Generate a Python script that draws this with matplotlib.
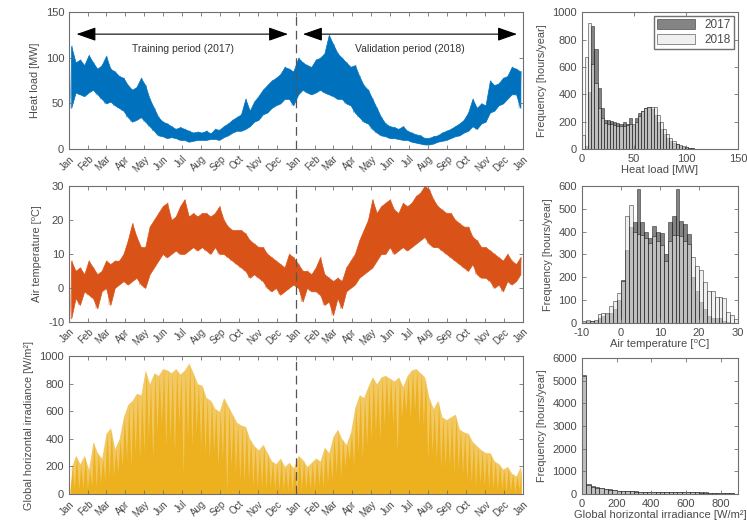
"""Heat load, air temperature and irradiance: time series (2017-2018) and yearly histograms."""

import datetime as dt

import matplotlib
matplotlib.use("Agg")
import matplotlib.dates as mdates
import matplotlib.pyplot as plt
import numpy as np

plt.rcParams["font.family"] = ["Liberation Sans", "DejaVu Sans"]
plt.rcParams["font.size"] = 8
plt.rcParams["axes.unicode_minus"] = False

BLUE = "#0072BD"
ORANGE = "#D95319"
YELLOW = "#EDB120"
TXT = "#4a4a4a"
SPINE = "#707070"

# ---- weekly extremes (52 weeks 2017 + 52 weeks 2018) ----
heat_low = [
    45, 62, 60, 58, 62, 65, 60, 55, 50, 52, 48, 45, 42, 35, 30, 32, 35,
    30, 25, 20, 15, 14, 12, 13, 12, 10, 10, 8, 9, 10, 10, 10, 11, 11, 10,
    13, 15, 18, 20, 20, 22, 25, 30, 32, 38, 40, 45, 48, 50, 55, 55, 48,
    60, 65, 62, 60, 62, 65, 62, 60, 58, 55, 55, 50, 48, 40, 35, 30, 28,
    22, 18, 15, 14, 12, 12, 11, 10, 10, 8, 7, 6, 5, 5, 6, 8, 9, 10,
    12, 14, 15, 18, 20, 25, 22, 28, 30, 40, 42, 48, 50, 55, 60, 60, 45,
]
heat_high = [
    113, 95, 98, 92, 103, 95, 88, 92, 102, 88, 85, 80, 78, 70, 65, 68, 78,
    70, 55, 45, 35, 30, 28, 25, 22, 24, 22, 20, 18, 19, 18, 20, 17, 22, 21,
    25, 28, 32, 35, 38, 55, 42, 52, 58, 65, 70, 75, 78, 82, 90, 88, 85,
    100, 95, 92, 90, 98, 100, 105, 125, 115, 105, 100, 95, 90, 92, 80, 70, 65,
    55, 45, 35, 28, 25, 24, 22, 25, 20, 18, 16, 15, 12, 12, 14, 15, 18, 20,
    22, 25, 28, 32, 40, 55, 45, 50, 48, 75, 70, 72, 78, 80, 90, 88, 85,
]
temp_low = [
    -9, -3, -5, -1, -2, -3, -6, -1, 0, -5, 0, 1, 2, 1, 2, 3, 1,
    0, 4, 6, 8, 10, 9, 10, 11, 10, 10, 11, 12, 11, 12, 11, 10, 12, 10,
    10, 9, 8, 7, 6, 5, 3, 4, 3, 2, 0, -1, 0, -2, -1, 0, 1,
    0, -4, 0, -1, -1, -2, -5, -4, -8, -3, -6, -1, 0, 1, 3, 4, 5,
    6, 8, 10, 10, 12, 10, 11, 12, 11, 12, 13, 14, 15, 13, 12, 12, 11, 10,
    9, 8, 7, 6, 5, 7, 4, 3, 3, 2, 0, 1, -1, 2, 1, 2, 4,
]
temp_high = [
    8, 5, 6, 4, 8, 6, 4, 5, 8, 7, 8, 8, 10, 14, 19, 15, 12,
    12, 18, 20, 22, 24, 25, 20, 21, 24, 26, 21, 22, 21, 22, 22, 21, 22, 24,
    20, 18, 17, 17, 17, 16, 14, 13, 12, 12, 10, 9, 8, 7, 6, 10, 9,
    7, 5, 5, 4, 6, 9, 4, 3, 2, 3, 2, 6, 8, 10, 14, 17, 20,
    26, 22, 24, 25, 26, 23, 22, 25, 24, 25, 27, 28, 30, 29, 26, 24, 23, 22,
    22, 20, 19, 18, 18, 15, 14, 12, 12, 11, 10, 9, 8, 10, 8, 7, 9,
]
ghi_low = [
    30, 40, 30, 40, 40, 60, 50, 80, 100, 120, 130, 160, 200, 250, 200, 300, 250,
    300, 400, 250, 450, 500, 350, 400, 300, 500, 150, 400, 350, 450, 350, 300, 250, 300, 200,
    250, 5, 200, 150, 100, 80, 100, 60, 50, 50, 40, 50, 30, 30, 20, 20, 20,
    20, 30, 40, 30, 40, 60, 50, 80, 100, 150, 120, 200, 250, 200, 300, 250, 350,
    400, 450, 400, 500, 550, 500, 300, 550, 600, 550, 600, 500, 500, 250, 300, 250, 200, 200,
    200, 150, 180, 150, 100, 80, 60, 80, 60, 50, 40, 30, 30, 20, 20, 10, 30,
]
ghi_high = [
    190, 280, 220, 280, 180, 380, 300, 260, 440, 480, 330, 400, 560, 650, 680, 730, 720,
    900, 800, 880, 860, 910, 900, 880, 910, 870, 900, 950, 880, 800, 790, 700, 680, 620, 600,
    700, 640, 580, 520, 500, 490, 400, 350, 320, 360, 300, 240, 220, 260, 200, 230, 190,
    280, 250, 200, 230, 260, 240, 340, 300, 420, 470, 400, 360, 450, 630, 720, 700, 780,
    850, 800, 850, 860, 840, 820, 850, 780, 860, 900, 910, 880, 850, 700, 620, 680, 560, 540,
    560, 580, 470, 450, 440, 380, 350, 320, 300, 300, 240, 220, 180, 200, 150, 130, 200,
]

# ---- histogram counts [hours/year] ----
heat_edges = np.arange(0, 121, 3)
heat_2017 = [0, 20, 420, 900, 730, 445, 300, 215, 210, 205, 195, 190, 185, 195,
             180, 230, 175, 230, 260, 280, 300, 310, 290, 250, 200, 150, 110, 80,
             60, 45, 35, 25, 18, 12, 8, 5, 3, 2, 1, 0]
heat_2018 = [100, 675, 925, 620, 480, 300, 230, 190, 185, 180, 175, 170, 165, 170,
             175, 180, 185, 200, 240, 280, 300, 305, 310, 310, 250, 200, 150, 110,
             80, 60, 40, 30, 20, 15, 10, 6, 3, 2, 1, 0]
temp_edges = np.arange(-10, 31, 1)
temp_2017 = [5, 8, 10, 10, 20, 30, 40, 45, 60, 100, 190, 320, 420, 440, 585, 440,
             400, 370, 425, 400, 395, 300, 440, 470, 585, 445, 435, 390, 200, 140,
             90, 60, 30, 20, 20, 20, 10, 5, 2, 0]
temp_2018 = [10, 12, 10, 12, 40, 44, 44, 73, 95, 130, 185, 470, 515, 400, 390, 385,
             370, 350, 380, 360, 340, 270, 360, 385, 385, 380, 360, 345, 290, 250,
             230, 180, 138, 142, 112, 112, 110, 50, 35, 18]
ghi_edges = np.arange(0, 901, 25)
ghi_2017 = [5250, 430, 340, 300, 270, 240, 200, 170, 150, 140, 130, 130, 120, 110,
            110, 100, 100, 100, 95, 100, 90, 90, 80, 80, 80, 75, 70, 70, 70, 65,
            60, 60, 55, 50, 40, 20]
ghi_2018 = [5200, 400, 320, 280, 250, 220, 190, 160, 140, 130, 120, 120, 110, 100,
            100, 100, 95, 95, 90, 90, 85, 80, 80, 75, 75, 70, 70, 65, 65, 60, 55,
            55, 50, 45, 35, 15]

T0 = mdates.date2num(dt.datetime(2017, 1, 1))
T_SPLIT = mdates.date2num(dt.datetime(2018, 1, 1))
T1 = mdates.date2num(dt.datetime(2019, 1, 1))

week_start = np.concatenate([T0 + 7 * np.arange(52), T_SPLIT + 7 * np.arange(52)])
t_low = week_start + 1.5
t_high = week_start + 5.0
t_mid = week_start + 3.5
t_zig = np.column_stack([t_low, t_high]).ravel()


def zig(low, high):
    return np.column_stack([low, high]).ravel()


def style_box(ax):
    for s in ax.spines.values():
        s.set_color(SPINE)
        s.set_linewidth(0.8)
    ax.tick_params(direction="in", top=True, right=True, colors=SPINE,
                   labelcolor=TXT, length=3, width=0.6, labelsize=8)


def style_ts(ax, ylim, yticks, ylabel):
    style_box(ax)
    ax.set_xlim(T0, T1)
    ax.set_ylim(*ylim)
    ax.set_yticks(yticks)
    ax.xaxis.set_major_locator(mdates.MonthLocator())
    ax.xaxis.set_major_formatter(mdates.DateFormatter("%b"))
    ax.tick_params(axis="x", labelsize=7)
    for lab in ax.get_xticklabels():
        lab.set_rotation(45)
        lab.set_ha("right")
        lab.set_rotation_mode("anchor")
    ax.axvline(T_SPLIT, color="#555555", ls=(0, (7, 4)), lw=0.9, zorder=5)
    ax.set_ylabel(ylabel, color=TXT, fontsize=7.8)


def style_hist(ax, xlim, xticks, ylim, yticks, xlabel):
    style_box(ax)
    ax.set_xlim(*xlim)
    ax.set_xticks(xticks)
    ax.set_ylim(*ylim)
    ax.set_yticks(yticks)
    ax.set_xlabel(xlabel, color=TXT, fontsize=8, labelpad=1)
    ax.set_ylabel("Frequency [hours/year]", color=TXT, fontsize=7.8)


def hist_pair(ax, edges, c17, c18):
    w = np.diff(edges)
    ax.bar(edges[:-1], c17, width=w, align="edge", color=(0.2, 0.2, 0.2),
           alpha=0.6, edgecolor="black", linewidth=0.5, label="2017")
    ax.bar(edges[:-1], c18, width=w, align="edge", color=(0.9, 0.9, 0.9),
           alpha=0.6, edgecolor="black", linewidth=0.5, label="2018")


def band(ax, low, high, color):
    ax.plot(t_zig, zig(low, high), color=color, lw=0.7, alpha=0.5)
    ax.fill_between(t_mid, low, high, color=color, lw=0.5, edgecolor=color)


fig = plt.figure(figsize=(7.47, 5.26), dpi=100)

ts_left, ts_w = 0.0924, 0.608
h_left, h_w = 0.779, 0.209
ax_heat = fig.add_axes([ts_left, 0.7167, ts_w, 0.260])
ax_temp = fig.add_axes([ts_left, 0.388, ts_w, 0.2586])
ax_ghi = fig.add_axes([ts_left, 0.0608, ts_w, 0.262])
hx_heat = fig.add_axes([h_left, 0.7167, h_w, 0.260])
hx_temp = fig.add_axes([h_left, 0.386, h_w, 0.2605])
hx_ghi = fig.add_axes([h_left, 0.0608, h_w, 0.2586])

# heat load
band(ax_heat, heat_low, heat_high, BLUE)
style_ts(ax_heat, (0, 150), [0, 50, 100, 150], "Heat load [MW]")

arrow = dict(arrowstyle="<|-|>,head_length=1.0,head_width=0.35", color="black",
             lw=0.8, mutation_scale=12, shrinkA=0, shrinkB=0)
ax_heat.annotate("", xy=(T0 + 12, 126), xytext=(T_SPLIT - 13, 126), arrowprops=arrow)
ax_heat.annotate("", xy=(T_SPLIT + 11, 126), xytext=(T1 - 10, 126), arrowprops=arrow)
ax_heat.text((T0 + T_SPLIT) / 2, 110, "Training period (2017)", ha="center",
             va="center", fontsize=7.5, color="#333333")
ax_heat.text((T_SPLIT + T1) / 2, 110, "Validation period (2018)", ha="center",
             va="center", fontsize=7.5, color="#333333")

# air temperature
band(ax_temp, temp_low, temp_high, ORANGE)
style_ts(ax_temp, (-10, 30), [-10, 0, 10, 20, 30], "Air temperature [\u2070C]")

# irradiance
ax_ghi.fill_between(t_mid, 0, ghi_high, color=YELLOW, alpha=0.7, lw=0)
ax_ghi.fill_between(t_zig, 0, zig(ghi_low, ghi_high), color=YELLOW, lw=0)
style_ts(ax_ghi, (0, 1000), [0, 200, 400, 600, 800, 1000],
         "Global horizontal irradiance [W/m\u00b2]")

# histograms
hist_pair(hx_heat, heat_edges, heat_2017, heat_2018)
style_hist(hx_heat, (0, 150), [0, 50, 100, 150], (0, 1000),
           [0, 200, 400, 600, 800, 1000], "Heat load [MW]")
leg = hx_heat.legend(loc="upper right", fontsize=8.5, fancybox=False,
                     edgecolor=SPINE, framealpha=1, borderpad=0.3,
                     handlelength=3.2, handleheight=0.9, labelspacing=0.2,
                     borderaxespad=0.3)
for t in leg.get_texts():
    t.set_color(TXT)

hist_pair(hx_temp, temp_edges, temp_2017, temp_2018)
style_hist(hx_temp, (-10, 30), [-10, 0, 10, 20, 30], (0, 600),
           [0, 100, 200, 300, 400, 500, 600], "Air temperature [\u2070C]")

hist_pair(hx_ghi, ghi_edges, ghi_2017, ghi_2018)
style_hist(hx_ghi, (0, 900), [0, 200, 400, 600, 800], (0, 6000),
           [0, 1000, 2000, 3000, 4000, 5000, 6000],
           "Global horizontal irradiance [W/m\u00b2]")

fig.savefig("out.png", dpi=100)
plt.close(fig)
